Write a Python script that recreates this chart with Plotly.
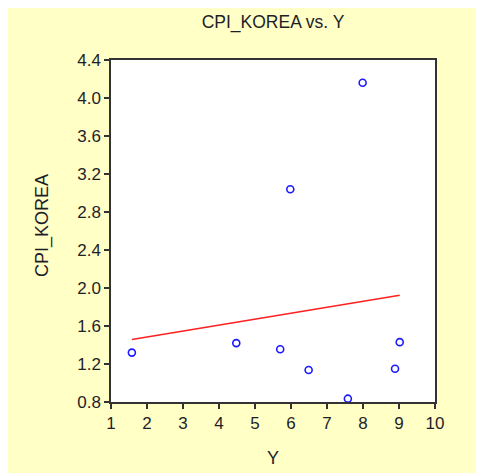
import numpy as np
import plotly.graph_objects as go

# Data
y_values = [1.58, 4.48, 5.70, 6.49, 7.58, 8.89, 9.02, 7.99, 5.98]          # Y (x-axis)
cpi_korea = [1.32, 1.42, 1.355, 1.137, 0.835, 1.15, 1.43, 4.16, 3.04]      # CPI_KOREA (y-axis)
x_ticks = [1, 2, 3, 4, 5, 6, 7, 8, 9, 10]
y_ticks = [0.8, 1.2, 1.6, 2.0, 2.4, 2.8, 3.2, 3.6, 4.0, 4.4]

# OLS regression line
slope, intercept = np.polyfit(y_values, cpi_korea, 1)
fx = [min(y_values), max(y_values)]
fy = [intercept + slope * v for v in fx]

FONT = "Liberation Sans, Arial, sans-serif"
TXT = "#1e1e28"
BG = "#FFFFC6"

fig = go.Figure()
fig.add_trace(go.Scatter(x=y_values, y=cpi_korea, mode="markers",
                         marker=dict(symbol="circle-open", size=7, color="#1a1aff",
                                     line=dict(width=1.6, color="#1a1aff")),
                         showlegend=False, cliponaxis=False))
fig.add_trace(go.Scatter(x=fx, y=fy, mode="lines",
                         line=dict(color="#ff2020", width=1.5), showlegend=False))

# page body has an 8px margin; figure coords = screen coords - 8
OFF = 8
W, H = 484, 473
L, T = 111 - OFF, 60 - OFF
pw, ph = 324, 342
R, B = W - L - pw, H - T - ph

def px_x(p):
    return (p - OFF - L) / pw

def px_y(p):
    return (T + ph - (p - OFF)) / ph

fig.update_layout(
    width=W, height=H,
    margin=dict(l=L, r=R, t=T, b=B),
    paper_bgcolor=BG, plot_bgcolor="white",
    font=dict(family=FONT, color=TXT, size=17),
    title=dict(text="CPI_KOREA vs. Y", x=0.5, xref="paper", y=1 - (22 - OFF) / H,
               yanchor="middle", xanchor="center",
               font=dict(size=17.5, family=FONT, color=TXT)),
    annotations=[
        dict(text="Y", xref="paper", yref="paper", x=0.5, y=px_y(458),
             xanchor="center", yanchor="middle", showarrow=False,
             font=dict(size=18, family=FONT, color=TXT)),
        dict(text="CPI_KOREA", xref="paper", yref="paper", x=px_x(42), y=px_y(226),
             xanchor="center", yanchor="middle", showarrow=False, textangle=-90,
             font=dict(size=18, family=FONT, color=TXT)),
    ],
)
fig.update_xaxes(range=[1, 10], tickvals=x_ticks, ticktext=[str(t) for t in x_ticks],
                 showgrid=False, zeroline=False, showline=True, mirror=True,
                 linecolor="#333333", linewidth=1.5, ticks="outside", ticklen=5,
                 tickcolor="#333333", tickwidth=1.5, tickfont=dict(size=17))
fig.update_yaxes(range=[0.8, 4.4], tickvals=y_ticks, ticktext=[f"{t:.1f}" for t in y_ticks],
                 showgrid=False, zeroline=False, showline=True, mirror=True,
                 linecolor="#333333", linewidth=1.5, ticks="outside", ticklen=5,
                 tickcolor="#333333", tickwidth=1.5, tickfont=dict(size=17))

fig.write_html("out.html")
